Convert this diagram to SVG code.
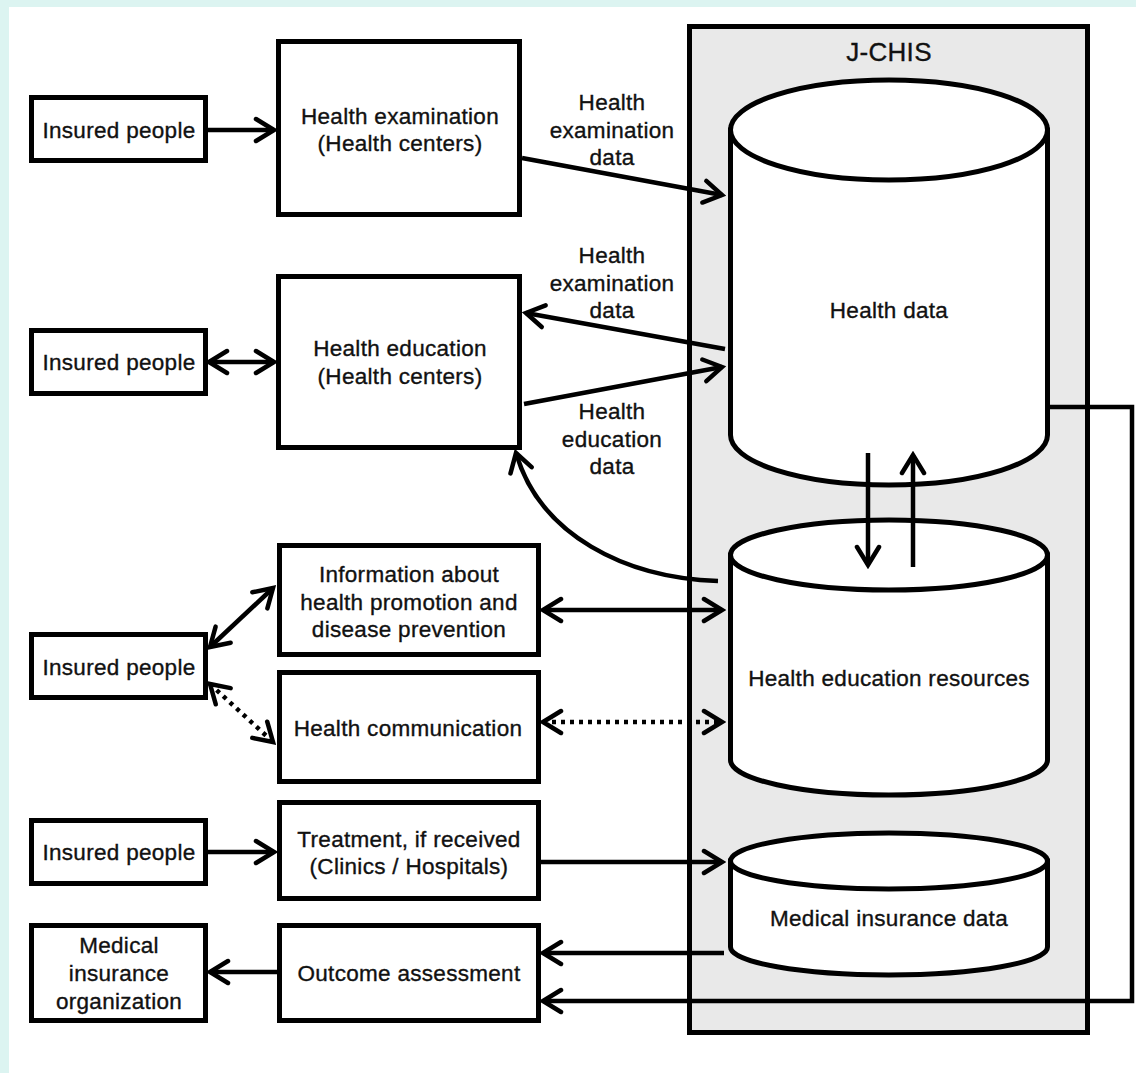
<svg xmlns="http://www.w3.org/2000/svg" width="1136" height="1073" viewBox="0 0 1136 1073">
  <style>
    .box { fill: #ffffff; stroke: #000000; stroke-width: 5; }
    .cyl { fill: #ffffff; stroke: #000000; stroke-width: 5; }
    .sys { fill: #e9e9e9; stroke: #000000; stroke-width: 5; }
    .lbl { font-family: "Liberation Sans", Arial, sans-serif; font-size: 22.5px; letter-spacing: 0.3px; fill: #111111; stroke: #111111; stroke-width: 0.35px; text-anchor: middle; }
    .title { font-size: 26px; }
    .edge { fill: none; stroke: #000000; stroke-width: 4.5; }
    .dot { stroke-dasharray: 4 5; }
  </style>
  <defs>
    <marker id="head" markerUnits="userSpaceOnUse" viewBox="-24 -16 28 32" refX="0" refY="0" markerWidth="28" markerHeight="32" orient="auto-start-reverse">
      <path d="M-18,-11 L0,0 L-18,11" fill="none" stroke="#000000" stroke-width="4.5" stroke-linecap="round" stroke-linejoin="miter"/>
    </marker>
  </defs>

  <!-- page background -->
  <rect x="0" y="0" width="1136" height="1073" fill="#dcf4f1"/>
  <rect x="9" y="7" width="1127" height="1066" fill="#ffffff"/>

  <!-- J-CHIS system frame -->
  <g id="jchis">
    <rect class="sys" x="689.5" y="26.5" width="398" height="1006"/>
    <text class="lbl title" x="889" y="61">J-CHIS</text>
  </g>

  <!-- data stores -->
  <g id="health-data">
    <path class="cyl" d="M730.5,130 L730.5,435 A158.5,50 0 0 0 1047.5,435 L1047.5,130 Z"/>
    <ellipse class="cyl" cx="889" cy="130" rx="158.5" ry="50"/>
    <text class="lbl" x="889" y="318">Health data</text>
  </g>
  <g id="health-education-resources">
    <path class="cyl" d="M730.5,555 L730.5,760 A158.5,35 0 0 0 1047.5,760 L1047.5,555 Z"/>
    <ellipse class="cyl" cx="889" cy="555" rx="158.5" ry="35"/>
    <text class="lbl" x="889" y="686">Health education resources</text>
  </g>
  <g id="medical-insurance-data">
    <path class="cyl" d="M730.5,861 L730.5,947 A158.5,28 0 0 0 1047.5,947 L1047.5,861 Z"/>
    <ellipse class="cyl" cx="889" cy="861" rx="158.5" ry="28"/>
    <text class="lbl" x="889" y="926">Medical insurance data</text>
  </g>

  <!-- left column -->
  <g id="insured-1">
    <rect class="box" x="31.5" y="97.5" width="174" height="63"/>
    <text class="lbl" x="119" y="138">Insured people</text>
  </g>
  <g id="insured-2">
    <rect class="box" x="31.5" y="330.5" width="174" height="63"/>
    <text class="lbl" x="119" y="370">Insured people</text>
  </g>
  <g id="insured-3">
    <rect class="box" x="31.5" y="634.5" width="174" height="63"/>
    <text class="lbl" x="119" y="675">Insured people</text>
  </g>
  <g id="insured-4">
    <rect class="box" x="31.5" y="820.5" width="174" height="63"/>
    <text class="lbl" x="119" y="860">Insured people</text>
  </g>
  <g id="insurance-org">
    <rect class="box" x="31.5" y="925.5" width="174" height="95"/>
    <text class="lbl" x="119" y="953">Medical</text>
    <text class="lbl" x="119" y="981">insurance</text>
    <text class="lbl" x="119" y="1009">organization</text>
  </g>

  <!-- middle column -->
  <g id="health-examination">
    <rect class="box" x="278.5" y="41.5" width="241" height="173"/>
    <text class="lbl" x="400" y="124">Health examination</text>
    <text class="lbl" x="400" y="151">(Health centers)</text>
  </g>
  <g id="health-education">
    <rect class="box" x="278.5" y="276.5" width="241" height="171"/>
    <text class="lbl" x="400" y="356">Health education</text>
    <text class="lbl" x="400" y="384">(Health centers)</text>
  </g>
  <g id="promotion-info">
    <rect class="box" x="279.5" y="545.5" width="259" height="109"/>
    <text class="lbl" x="409" y="582">Information about</text>
    <text class="lbl" x="409" y="610">health promotion and</text>
    <text class="lbl" x="409" y="637">disease prevention</text>
  </g>
  <g id="health-communication">
    <rect class="box" x="279.5" y="672.5" width="259" height="109"/>
    <text class="lbl" x="408" y="736">Health communication</text>
  </g>
  <g id="treatment">
    <rect class="box" x="279.5" y="802.5" width="259" height="96"/>
    <text class="lbl" x="409" y="847">Treatment, if received</text>
    <text class="lbl" x="409" y="874">(Clinics / Hospitals)</text>
  </g>
  <g id="outcome-assessment">
    <rect class="box" x="279.5" y="925.5" width="259" height="95"/>
    <text class="lbl" x="409" y="981">Outcome assessment</text>
  </g>

  <!-- connectors -->
  <g id="connectors">
    <line class="edge" x1="208" y1="130" x2="274" y2="130" marker-end="url(#head)"/>
    <line class="edge" x1="522" y1="158" x2="722" y2="195" marker-end="url(#head)"/>
    <line class="edge" x1="725" y1="349" x2="526" y2="313" marker-end="url(#head)"/>
    <line class="edge" x1="524" y1="404" x2="722" y2="367" marker-end="url(#head)"/>
    <line class="edge" x1="209" y1="362" x2="274" y2="362" marker-start="url(#head)" marker-end="url(#head)"/>
    <path class="edge" d="M718,581 C625,578 540,535 516,453" marker-end="url(#head)"/>
    <line class="edge" x1="868" y1="453" x2="868" y2="565" marker-end="url(#head)"/>
    <line class="edge" x1="913" y1="567" x2="913" y2="455" marker-end="url(#head)"/>
    <line class="edge" x1="210" y1="647" x2="273" y2="588" marker-start="url(#head)" marker-end="url(#head)"/>
    <line class="edge dot" x1="210" y1="684" x2="273" y2="742" marker-start="url(#head)" marker-end="url(#head)"/>
    <line class="edge" x1="543" y1="610" x2="722" y2="610" marker-start="url(#head)" marker-end="url(#head)"/>
    <line class="edge dot" x1="543" y1="722" x2="722" y2="722" marker-start="url(#head)" marker-end="url(#head)"/>
    <line class="edge" x1="208" y1="852" x2="274" y2="852" marker-end="url(#head)"/>
    <line class="edge" x1="541" y1="862" x2="722" y2="862" marker-end="url(#head)"/>
    <line class="edge" x1="724" y1="953" x2="543" y2="953" marker-end="url(#head)"/>
    <line class="edge" x1="277" y1="972" x2="210" y2="972" marker-end="url(#head)"/>
    <path class="edge" d="M1050,407 H1132 V1001 H543" marker-end="url(#head)"/>
  </g>

  <!-- flow labels -->
  <g id="flow-labels">
    <text class="lbl" x="612" y="110">Health</text>
    <text class="lbl" x="612" y="138">examination</text>
    <text class="lbl" x="612" y="165">data</text>
    <text class="lbl" x="612" y="263">Health</text>
    <text class="lbl" x="612" y="291">examination</text>
    <text class="lbl" x="612" y="318">data</text>
    <text class="lbl" x="612" y="419">Health</text>
    <text class="lbl" x="612" y="447">education</text>
    <text class="lbl" x="612" y="474">data</text>
  </g>
</svg>
